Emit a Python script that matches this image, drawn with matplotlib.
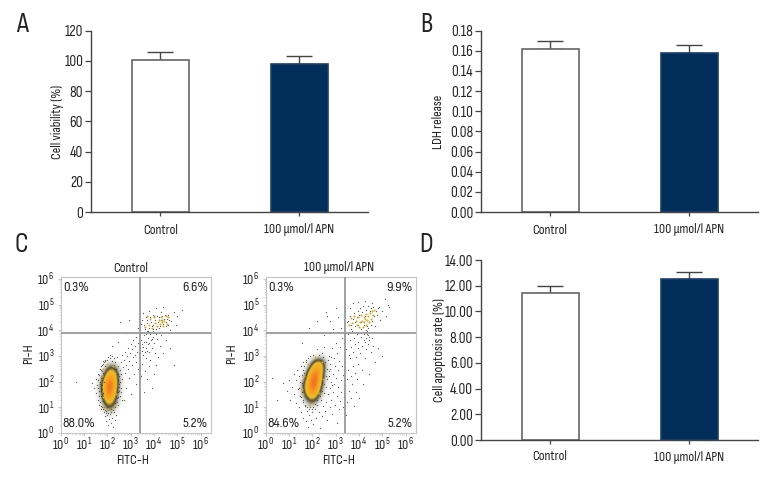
"""Adiponectin figure: three bar panels (A, B, D) and two flow cytometry dot plots (C)."""

import numpy as np
import matplotlib
matplotlib.use('Agg')
import matplotlib.pyplot as plt
from matplotlib.colors import LinearSegmentedColormap

W, H = 780, 492
plt.rcParams['font.family'] = ['Sofia Sans Condensed', 'Asap Condensed', 'Roboto', 'DejaVu Sans']
plt.rcParams['mathtext.fontset'] = 'custom'
plt.rcParams['mathtext.rm'] = 'Sofia Sans Condensed'

groups = ['Control', '100 µmol/l APN']

viability = [100.5, 98.2]
viability_err = [5.4, 5.0]
viability_ticks = [0, 20, 40, 60, 80, 100, 120]

ldh = [0.162, 0.158]
ldh_err = [0.008, 0.0075]
ldh_ticks = [0.00, 0.02, 0.04, 0.06, 0.08, 0.10, 0.12, 0.14, 0.16, 0.18]

apoptosis = [11.4, 12.5]
apoptosis_err = [0.6, 0.6]
apoptosis_ticks = [0.00, 2.00, 4.00, 6.00, 8.00, 10.00, 12.00, 14.00]

ctrl_pct = ['0.3%', '6.6%', '88.0%', '5.2%']
apn_pct = ['0.3%', '9.9%', '84.6%', '5.2%']

# density, in log10 units, rows run top to bottom
ctrl_core_x = [1.4, 3.0]
ctrl_core_y = [3.0, 0.6]
ctrl_core = [
    [0, 0, 0, 0, 0, 0, 0, 0, 0],
    [0, 0, 0, .2, .4, .2, 0, 0, 0],
    [0, 0, .1, .8, 1.1, .7, .1, 0, 0],
    [0, 0, .4, 1.6, 2.0, 1.2, .2, 0, 0],
    [0, .1, .9, 2.3, 2.6, 1.5, .3, 0, 0],
    [0, .3, 1.3, 3.2, 3.0, 1.6, .3, 0, 0],
    [0, .4, 1.5, 3.5, 3.1, 1.5, .2, 0, 0],
    [0, .3, 1.4, 3.3, 2.8, 1.3, .2, 0, 0],
    [0, .2, 1.1, 2.7, 2.2, 1.0, .1, 0, 0],
    [0, .1, .8, 1.9, 1.6, .7, .1, 0, 0],
    [0, 0, .4, 1.1, 1.0, .4, 0, 0, 0],
    [0, 0, .1, .5, .5, .1, 0, 0, 0],
    [0, 0, 0, .1, .1, 0, 0, 0, 0],
]

apn_core_x = [1.2, 2.8]
apn_core_y = [3.2, 0.8]
apn_core = [
    [0, 0, 0, 0, 0, 0, 0, 0, 0],
    [0, 0, 0, 0, .1, .3, .4, .2, 0],
    [0, 0, 0, .1, .8, 1.5, 1.3, .4, 0],
    [0, 0, 0, .5, 1.7, 2.4, 1.9, .5, 0],
    [0, 0, .2, 1.2, 2.6, 2.9, 1.8, .4, 0],
    [0, 0, .4, 1.8, 3.2, 3.2, 1.6, .3, 0],
    [0, .1, .9, 2.2, 3.6, 3.1, 1.3, .2, 0],
    [0, .2, 1.2, 2.4, 3.6, 2.7, 1.0, .1, 0],
    [0, .2, 1.1, 2.2, 3.0, 2.0, .7, .1, 0],
    [0, .1, .8, 1.7, 2.1, 1.3, .4, 0, 0],
    [0, 0, .3, 1.0, 1.2, .7, .1, 0, 0],
    [0, 0, .1, .4, .5, .2, 0, 0, 0],
    [0, 0, 0, 0, 0, 0, 0, 0, 0],
]

# single events picked from the dot plots (log10 FITC, log10 PI)
ctrl_dots = [
    (0.65, 2.0), (1.35, 1.95), (1.42, 1.75), (1.5, 2.1), (1.52, 1.55), (1.55, 1.85), (1.58, 2.3), (1.6, 1.3),
    (1.62, 2.05), (1.65, 1.65), (1.66, 1.1), (1.68, 2.5), (1.7, 1.9), (1.72, 2.2), (1.74, 1.45), (1.75, 0.95),
    (1.76, 2.65), (1.78, 1.7), (1.8, 1.25), (1.8, 2.8), (1.82, 2.35), (1.84, 0.8), (1.85, 2.0), (1.86, 1.0),
    (1.88, 2.6), (1.9, 0.65), (1.9, 1.15), (1.92, 2.85), (1.95, 0.85), (1.96, 0.45), (1.98, 1.02), (2.0, 0.7),
    (2.02, 2.95), (2.04, 0.3), (2.05, 0.9), (2.08, 0.55), (2.1, 3.05), (2.12, 0.75), (2.15, 0.4), (2.18, 0.95),
    (2.2, 3.0), (2.22, 0.6), (2.25, 0.25), (2.28, 0.8), (2.3, 2.9), (2.32, 0.5), (2.35, 1.15), (2.35, 2.75),
    (2.38, 0.7), (2.4, 1.35), (2.42, 2.95), (2.45, 1.6), (2.46, 2.6), (2.48, 1.1), (2.5, 1.9), (2.52, 2.2),
    (2.55, 2.45), (2.55, 1.45), (2.58, 2.75), (2.6, 1.75), (2.62, 3.05), (2.64, 2.1), (2.68, 2.55), (2.7, 1.3),
    (2.72, 2.85), (2.75, 3.15), (2.78, 2.35), (2.8, 2.65), (2.82, 1.75), (2.85, 3.0), (2.88, 3.3), (2.9, 2.5),
    (2.92, 2.15), (2.95, 2.8), (2.98, 3.1), (3.0, 3.45), (3.02, 1.5), (3.05, 2.65), (3.08, 3.25), (3.1, 2.95),
    (3.12, 3.6), (3.15, 2.3), (3.18, 3.05), (3.2, 3.4), (3.22, 2.75), (3.25, 3.75), (3.25, 1.9), (3.28, 3.15),
    (3.3, 2.5), (3.32, 3.5), (3.35, 3.9), (3.38, 2.9), (3.4, 3.3), (3.42, 3.1), (3.44, 2.2), (3.46, 3.6),
    (3.48, 3.2), (3.5, 3.45), (3.5, 2.7), (3.52, 3.05), (3.54, 3.35), (3.56, 3.8), (3.58, 1.6), (3.6, 3.15),
    (3.62, 2.4), (3.64, 3.55), (3.66, 2.9), (3.68, 3.3), (3.7, 3.95), (3.72, 2.1), (3.74, 3.7), (3.76, 3.45),
    (3.78, 2.6), (3.8, 3.15), (3.82, 3.85), (3.85, 2.85), (3.88, 3.6), (3.9, 1.75), (3.92, 3.3), (3.95, 3.95),
    (3.98, 3.75), (4.0, 2.3), (4.02, 3.5), (4.05, 3.1), (4.08, 3.85), (4.1, 2.65), (4.12, 3.65), (4.18, 2.95),
    (4.25, 3.4), (4.3, 3.8), (4.4, 3.1), (4.5, 3.6), (4.7, 3.3), (4.85, 2.65), (5.0, 4.55), (4.95, 4.2),
    (3.3, 4.1), (3.35, 4.45), (3.45, 4.25), (3.55, 4.65), (3.62, 4.05), (3.7, 4.4), (3.8, 4.75), (3.9, 4.15),
    (4.0, 4.55), (4.1, 4.85), (4.2, 4.1), (4.3, 4.7), (4.4, 4.9), (4.5, 4.15), (4.6, 4.6), (4.7, 4.0),
    (4.75, 4.35), (4.85, 4.7), (2.8, 3.9), (2.55, 4.3), (2.95, 4.4), (2.45, 3.55), (2.2, 3.4), (5.2, 4.8),
    (3.5, 4.4), (3.58, 4.2), (3.65, 4.5), (3.72, 4.28), (3.78, 4.1), (3.83, 4.5), (3.88, 4.33), (3.95, 4.6),
    (3.98, 4.22), (4.04, 4.4), (4.08, 4.05), (4.12, 4.55), (4.16, 4.3), (4.22, 4.5), (4.26, 4.18), (4.3, 4.38),
    (4.34, 4.55), (4.38, 4.25), (4.42, 4.42), (4.46, 4.6), (4.5, 4.3), (4.55, 4.45), (4.6, 4.2), (4.65, 4.4),
    (3.75, 3.98), (3.85, 3.92), (3.95, 4.05), (3.68, 3.85), (3.92, 3.65), (3.8, 3.5), (3.7, 3.2), (3.58, 3.55),
    (1.6, 1.75), (1.63, 2.25), (1.66, 1.45), (1.68, 2.0), (1.7, 1.2), (1.71, 2.45), (1.72, 1.65), (1.73, 2.15),
    (1.74, 1.05), (1.75, 2.6), (1.76, 1.35), (1.77, 1.85), (1.78, 2.4), (1.79, 1.0), (1.8, 2.7), (1.8, 1.55),
    (1.82, 0.95), (1.85, 2.75), (1.88, 0.9), (1.92, 2.8), (1.95, 0.78), (2.0, 2.85), (2.05, 0.78), (2.1, 2.9),
    (2.15, 0.82), (2.2, 2.8), (2.25, 0.9), (2.3, 2.65), (2.35, 1.0), (2.38, 2.5), (2.42, 1.2), (2.44, 2.3),
    (2.46, 1.4), (2.48, 2.05), (2.5, 1.65), (2.52, 1.8), (2.55, 2.0), (2.57, 1.6), (2.6, 2.3), (2.62, 1.3),
]
ctrl_yellow = [
    (3.6, 4.12), (3.7, 4.55), (3.78, 4.2), (3.85, 4.42), (3.92, 4.1), (4.0, 4.5), (4.06, 4.28), (4.14, 4.15),
    (4.2, 4.4), (4.25, 4.25), (4.3, 4.52), (4.33, 4.3), (4.36, 4.4), (4.4, 4.15), (4.44, 4.35), (4.5, 4.55),
    (4.56, 4.25), (4.62, 4.5), (1.78, 2.2), (1.8, 1.4), (1.83, 2.5), (1.83, 1.1), (1.86, 0.98), (2.0, 2.7),
    (2.35, 2.35), (2.38, 1.5), (2.32, 1.1), (2.05, 0.92), (2.2, 0.98), (2.25, 2.6),
]
apn_dots = [
    (0.25, 2.15), (0.5, 1.3), (0.75, 1.95), (0.9, 1.65), (1.0, 2.05), (1.05, 1.3), (1.15, 1.8), (1.2, 2.3),
    (1.22, 1.5), (1.3, 2.05), (1.32, 1.15), (1.36, 2.45), (1.4, 1.7), (1.42, 1.0), (1.44, 2.2), (1.48, 1.45),
    (1.5, 2.6), (1.52, 0.8), (1.55, 1.95), (1.58, 1.2), (1.6, 2.75), (1.62, 0.6), (1.64, 2.35), (1.7, 1.05),
    (1.72, 0.45), (1.75, 2.85), (1.78, 0.85), (1.82, 0.25), (1.85, 0.7), (1.9, 1.0), (1.95, 0.5), (2.0, 0.8),
    (2.02, 3.05), (2.05, 0.35), (2.1, 0.95), (2.15, 0.6), (2.2, 1.1), (2.22, 3.25), (2.28, 0.8), (2.32, 0.2),
    (2.36, 1.3), (2.4, 0.65), (2.42, 3.1), (2.46, 1.05), (2.5, 1.55), (2.52, 3.35), (2.55, 0.85), (2.58, 1.8),
    (2.6, 1.2), (2.62, 2.1), (2.65, 0.5), (2.68, 1.5), (2.7, 2.4), (2.72, 3.0), (2.74, 1.0), (2.76, 1.75),
    (2.78, 2.7), (2.8, 2.0), (2.82, 1.3), (2.84, 3.3), (2.86, 0.75), (2.88, 2.3), (2.9, 1.6), (2.92, 2.9),
    (2.94, 1.9), (2.96, 1.1), (2.98, 2.6), (3.0, 3.5), (3.02, 2.15), (3.04, 1.45), (3.06, 0.4), (3.08, 3.1),
    (3.1, 1.8), (3.12, 2.45), (3.14, 0.95), (3.16, 2.8), (3.18, 1.25), (3.2, 3.35), (3.22, 2.05), (3.24, 1.6),
    (3.26, 3.7), (3.28, 2.6), (3.3, 1.0), (3.32, 2.25), (3.34, 3.0), (3.36, 1.4), (3.38, 3.5), (3.4, 1.85),
    (3.42, 2.75), (3.44, 0.7), (3.46, 3.25), (3.48, 2.1), (3.5, 1.2), (3.52, 3.85), (3.54, 2.45), (3.56, 1.65),
    (3.58, 3.05), (3.6, 2.9), (3.62, 3.6), (3.64, 1.35), (3.66, 2.2), (3.68, 3.35), (3.7, 1.9), (3.72, 3.95),
    (3.74, 2.6), (3.76, 3.15), (3.78, 1.05), (3.8, 3.7), (3.82, 2.35), (3.84, 3.45), (3.86, 1.6), (3.88, 2.95),
    (3.9, 3.85), (3.92, 2.1), (3.94, 3.3), (3.96, 2.7), (3.98, 3.55), (4.0, 1.35), (4.05, 3.1), (4.1, 3.75),
    (4.12, 2.45), (4.15, 3.4), (4.18, 1.9), (4.2, 3.6), (4.22, 3.85), (4.25, 2.9), (4.28, 3.55), (4.3, 3.25),
    (4.32, 3.7), (4.35, 3.95), (4.38, 3.45), (4.4, 3.8), (4.42, 2.3), (4.45, 3.6), (4.5, 3.15), (4.55, 3.7),
    (4.6, 3.4), (4.7, 2.75), (4.8, 3.3), (5.0, 3.0),
    (2.6, 4.7), (2.75, 4.35), (2.9, 4.05), (3.0, 4.85), (3.1, 4.5), (3.25, 4.1), (3.4, 4.75), (3.5, 4.3),
    (3.6, 4.85), (3.65, 4.05), (3.75, 5.05), (3.85, 4.15), (3.95, 5.1), (4.1, 4.05), (4.25, 5.15), (4.4, 4.1),
    (4.55, 5.05), (4.7, 4.15), (4.8, 4.85), (4.9, 4.4), (5.0, 4.75), (5.1, 5.2), (5.15, 4.55), (5.25, 5.0),
    (1.55, 3.5), (1.85, 4.1), (2.2, 4.35), (2.5, 3.8), (2.65, 4.55), (5.3, 4.9),
    (3.55, 4.35), (3.62, 4.55), (3.68, 4.2), (3.74, 4.45), (3.8, 4.65), (3.84, 4.3), (3.9, 4.5), (3.94, 4.75),
    (3.98, 4.2), (4.02, 4.6), (4.06, 4.85), (4.1, 4.3), (4.14, 4.7), (4.18, 4.95), (4.22, 4.2), (4.26, 4.55),
    (4.3, 4.8), (4.34, 4.15), (4.38, 4.95), (4.42, 4.3), (4.46, 4.75), (4.5, 4.2), (4.54, 4.85), (4.58, 4.35),
    (4.62, 4.9), (4.66, 4.55), (4.72, 4.75), (4.78, 4.6), (4.85, 4.9), (4.3, 4.0), (4.35, 3.85), (4.42, 3.75),
    (1.45, 1.75), (1.48, 2.0), (1.5, 1.4), (1.54, 2.25), (1.56, 1.6), (1.58, 1.85), (1.6, 2.45), (1.62, 1.3),
    (1.66, 2.6), (1.68, 1.1), (1.72, 2.75), (1.76, 1.0), (1.82, 2.9), (1.86, 0.92), (1.92, 3.0), (1.98, 0.95),
    (2.05, 1.02), (2.12, 1.12), (2.2, 1.3), (2.3, 3.05), (2.35, 1.45), (2.4, 1.65), (2.45, 2.95), (2.5, 1.9),
    (2.55, 2.75), (2.58, 2.2), (2.62, 2.5), (2.66, 2.85), (2.7, 2.2), (2.75, 2.5), (2.8, 2.95), (2.85, 1.85),
]
apn_yellow = [
    (3.58, 4.2), (3.66, 4.48), (3.72, 4.28), (3.8, 4.55), (3.86, 4.35), (3.92, 4.2), (3.98, 4.5), (4.04, 4.3),
    (4.08, 4.6), (4.14, 4.36), (4.2, 4.52), (4.24, 4.3), (4.28, 4.45), (4.32, 4.62), (4.36, 4.4), (4.4, 4.55),
    (4.44, 4.3), (4.48, 4.68), (4.52, 4.45), (4.56, 4.75), (4.6, 4.58), (4.66, 4.78), (4.02, 4.12), (4.18, 4.12),
    (4.3, 4.2), (1.55, 1.7), (1.62, 1.5), (1.66, 2.2), (1.8, 2.7), (1.86, 1.1), (2.1, 2.95), (2.4, 2.75),
    (2.45, 2.1), (2.3, 1.55), (2.05, 1.15),
]

DECADES = range(7)
LOG_MINOR = np.log10(np.arange(2, 10))

density_cmap = LinearSegmentedColormap.from_list('density', [
    (0.00, (0.35, 0.33, 0.25, 0.0)),
    (0.10, (0.30, 0.29, 0.22, 0.30)),
    (0.24, (0.25, 0.23, 0.12, 0.90)),
    (0.38, (0.93, 0.74, 0.16, 1.0)),
    (0.62, (0.97, 0.62, 0.12, 1.0)),
    (1.00, (0.92, 0.30, 0.16, 1.0)),
])


def axes_px(fig, left, top, right, bottom):
    return fig.add_axes([left / W, 1 - bottom / H, (right - left) / W, (bottom - top) / H])


def label_px(fig, x, y, text, size=10, **kw):
    kw.setdefault('ha', 'center')
    fig.text(x / W, 1 - y / H, text, fontsize=size, va='center', color='#222222', **kw)


def bar_panel(fig, box, values, errs, ticks, fmt):
    ax = axes_px(fig, *box)
    ax.bar([0, 1], values, width=0.41, color=['white', '#022e5c'], edgecolor=['#666666', '#1d3f66'],
           linewidth=1.2, zorder=2)
    ax.errorbar([0, 1], values, yerr=[[0, 0], errs], fmt='none', ecolor='#444444', elinewidth=1.0,
                capsize=13.5 * 0.72, capthick=1.0, zorder=1)
    ax.set_xlim(-0.502, 1.493)
    ax.set_ylim(ticks[0], ticks[-1])
    ax.set_yticks(ticks, [fmt.format(t) for t in ticks], fontsize=11, color='#222222')
    ax.set_xticks([0, 1], [])
    ax.tick_params(axis='y', length=4, width=0.9, color='#444444', pad=1.5)
    ax.tick_params(axis='x', length=3, width=0.9, color='#444444')
    for side in ('top', 'right'):
        ax.spines[side].set_visible(False)
    for side in ('left', 'bottom'):
        ax.spines[side].set_color('#444444')
        ax.spines[side].set_linewidth(1.0)
    ax.patch.set_alpha(0)
    return ax


def dot_panel(fig, box, dots, yellow, core, core_x, core_y, gate, pct):
    left, top_px, right, bottom = box
    ax = axes_px(fig, *box)
    ax.imshow(np.array(core, dtype=float), extent=[core_x[0], core_x[1], core_y[1], core_y[0]], origin='upper',
              cmap=density_cmap, vmin=0, vmax=4, interpolation='bicubic', aspect='auto', zorder=2)
    xs, ys = zip(*dots)
    dark = ax.scatter(xs, ys, s=0.8, color='#3a3a34', alpha=0.85, marker='o', linewidths=0, zorder=3)
    dark.set_snap(False)
    xs, ys = zip(*yellow)
    light = ax.scatter(xs, ys, s=2.2, color='#d8a92c', marker='o', linewidths=0, zorder=3)
    light.set_snap(False)
    ax.axvline(gate[0], color='#9a9a9a', lw=1.3, zorder=4)
    ax.axhline(gate[1], color='#9a9a9a', lw=1.3, zorder=4)
    ax.set_xlim(0, (right - left) / 23.3)
    ax.set_ylim(0, (bottom - top_px) / 25.7)

    ax.set_xticks(list(DECADES), [f'$\\mathrm{{10^{d}}}$' for d in DECADES], fontsize=10, color='#222222')
    ax.set_yticks(list(DECADES), [f'$\\mathrm{{10^{d}}}$' for d in DECADES], fontsize=10, color='#222222')
    ax.set_xticks([d + m for d in range(6) for m in LOG_MINOR], minor=True)
    ax.set_yticks([d + m for d in range(6) for m in LOG_MINOR if d + m < ax.get_ylim()[1]], minor=True)
    ax.tick_params(which='major', length=2, width=0.6, color='#bbbbbb', pad=0.5)
    ax.tick_params(axis='y', which='major', pad=2.5)
    ax.tick_params(which='minor', length=1.2, width=0.4, color='#cccccc')
    for spine in ax.spines.values():
        spine.set_color('#c4c4c4')
        spine.set_linewidth(0.8)

    tl, tr, bl, br = pct
    kw = dict(transform=ax.transAxes, fontsize=10.5, color='#222222', va='center')
    ax.text(0.014, 0.93, tl, ha='left', **kw)
    ax.text(0.98, 0.93, tr, ha='right', **kw)
    ax.text(0.014, 0.058, bl, ha='left', **kw)
    ax.text(0.98, 0.058, br, ha='right', **kw)
    return ax


def main():
    fig = plt.figure(figsize=(W / 100, H / 100), dpi=100)

    # ---------- Bar panels ----------
    bar_panel(fig, (90.7, 30.7, 368, 212), viability, viability_err, viability_ticks, '{:d}')
    bar_panel(fig, (480.7, 30.7, 758, 212), ldh, ldh_err, ldh_ticks, '{:.2f}')
    bar_panel(fig, (480.7, 260, 758, 440), apoptosis, apoptosis_err, apoptosis_ticks, '{:.2f}')

    for cx, y in ((160.5, 230), (299.5, 230), (550, 230), (689, 230), (550, 457), (689, 457)):
        label_px(fig, cx, y, groups[0] if cx in (160.5, 550) else groups[1])

    label_px(fig, 57, 122, 'Cell viability (%)', rotation=90)
    label_px(fig, 439, 122, 'LDH release', rotation=90)
    label_px(fig, 439, 350, 'Cell apoptosis rate (%)', rotation=90)

    # ---------- Flow cytometry panels ----------
    dot_panel(fig, (60.7, 277, 211, 433), ctrl_dots, ctrl_yellow, ctrl_core, ctrl_core_x, ctrl_core_y,
              (3.42, 3.88), ctrl_pct)
    dot_panel(fig, (265.7, 277, 416, 433), apn_dots, apn_yellow, apn_core, apn_core_x, apn_core_y,
              (3.41, 3.88), apn_pct)

    label_px(fig, 131, 268, groups[0])
    label_px(fig, 339, 268, groups[1])
    label_px(fig, 133, 460, 'FITC-H')
    label_px(fig, 339, 460, 'FITC-H')
    label_px(fig, 29, 354, 'PI-H', rotation=90)
    label_px(fig, 232, 354, 'PI-H', rotation=90)

    # ---------- Panel letters ----------
    for x, y, letter in ((22, 25, 'A'), (426, 25, 'B'), (21, 245, 'C'), (426, 245, 'D')):
        label_px(fig, x, y, letter, size=20)

    fig.savefig('out.png', dpi=100)
    plt.close(fig)


if __name__ == '__main__':
    main()
